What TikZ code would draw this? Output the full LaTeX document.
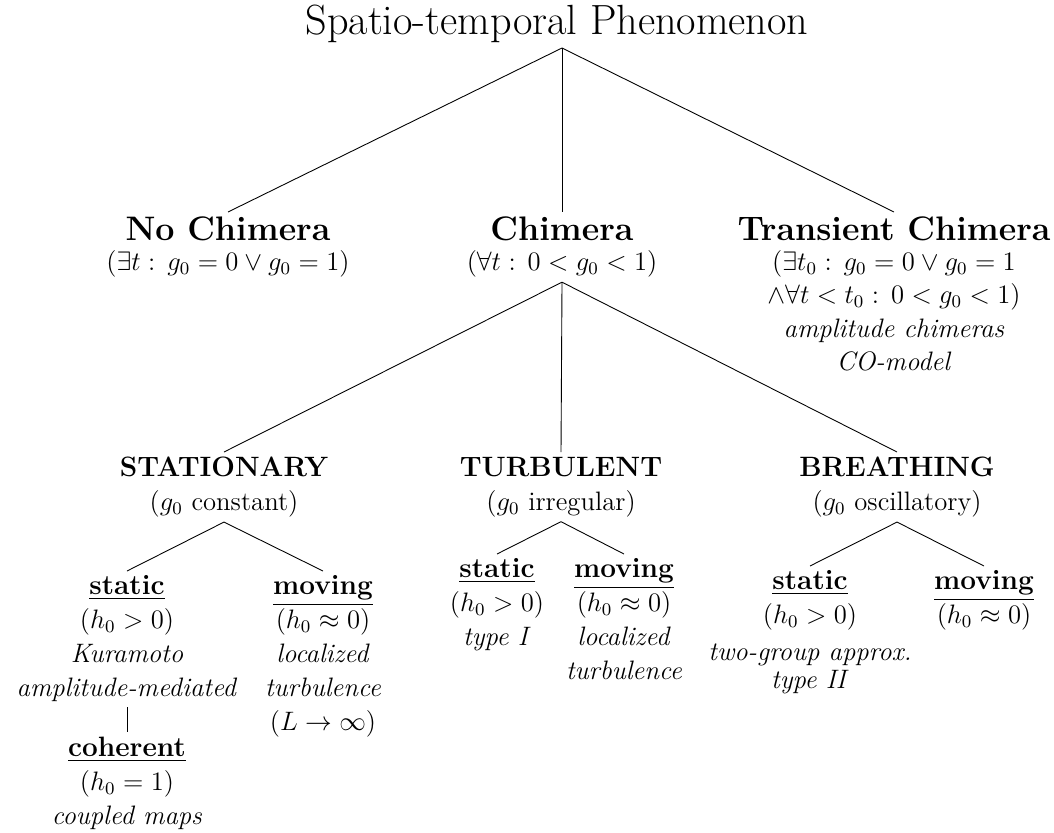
\documentclass[tikz,border=0pt]{standalone}
\usepackage{amsmath, amssymb}
\usepackage{tikz}
\usetikzlibrary{positioning}
\newcommand{\bighead}[1]{{\fontsize{15.3}{15}\selectfont\bfseries #1}}
\newcommand{\subhead}[1]{{\fontsize{12.6}{15}\selectfont\bfseries #1}}
\newcommand{\st}{\mathrel{:}\,}

\begin{document}
\begin{tikzpicture}[x=0.45pt, y=-0.45pt,
    cls/.style={align=center, anchor=north, inner sep=2pt, font=\fontsize{12}{15.3}\selectfont},
    top/.style={cls, font=\fontsize{12}{15}\selectfont}]
  \useasboundingbox (0,0) rectangle (1054,832);
  \node[anchor=south, inner sep=2pt, font=\fontsize{19}{23}\selectfont] (root) at (557,48) {Spatio-temporal Phenomenon};

  % erste Ebene
  \node[top] (noch) at (228,212) {\bighead{No Chimera}\\[-1.5pt] $(\exists t\st g_0=0\vee g_0=1)$};
  \node[top] (chim) at (562,212) {\bighead{Chimera}\\[-1.5pt] $(\forall t\st 0<g_0<1)$};
  \node[top] (trans) at (894,212) {\bighead{Transient Chimera}\\[-1.5pt]
    $(\exists t_0\st g_0=0\vee g_0=1$\\ $\wedge\forall t<t_0\st 0<g_0<1)$\\
    \textit{amplitude chimeras}\\ \textit{CO-model}};
  \draw (root.south -| chim.north) -- (noch.north);
  \draw (root.south -| chim.north) -- (chim.north);
  \draw (root.south -| chim.north) -- (trans.north);

  % Chimera-Typen
  \node[cls] (stat) at (224,452) {\subhead{STATIONARY}\\ ($g_0$ constant)};
  \node[cls] (turb) at (561,452) {\subhead{TURBULENT}\\ ($g_0$ irregular)};
  \node[cls] (brea) at (897,452) {\subhead{BREATHING}\\ ($g_0$ oscillatory)};
  \draw (chim.south) -- (stat.north);
  \draw (chim.south) -- (turb.north);
  \draw (chim.south) -- (brea.north);

  % stationaer
  \node[cls] (statS) at (127,571) {\underline{\subhead{static}}\\ $(h_0>0)$\\ \textit{Kuramoto}\\ \textit{amplitude-mediated}};
  \node[cls] (statM) at (323,571) {\underline{\subhead{moving}}\\ $(h_0\approx0)$\\ \textit{localized}\\ \textit{turbulence}\\ $(L\to\infty)$};
  \node[cls] (coh) at (127,732) {\underline{\subhead{coherent}}\\ $(h_0=1)$\\ \textit{coupled maps}};
  \draw (stat.south) -- (statS.north);
  \draw (stat.south) -- (statM.north);
  \draw (statS.south) -- (coh.north);

  % turbulent
  \node[cls] (turbS) at (497,554) {\underline{\subhead{static}}\\ $(h_0>0)$\\ \textit{type I}};
  \node[cls] (turbM) at (624,554) {\underline{\subhead{moving}}\\ $(h_0\approx0)$\\ \textit{localized}\\ \textit{turbulence}};
  \draw (turb.south) -- (turbS.north);
  \draw (turb.south) -- (turbM.north);

  % atmend
  \node[cls] (breS) at (810,566) {\underline{\subhead{static}}\\ $(h_0>0)$\\[1pt] \textit{two-group approx.}\\[-2.5pt] \textit{type II}};
  \node[cls] (breM) at (984,566) {\underline{\subhead{moving}}\\ $(h_0\approx0)$};
  \draw (brea.south) -- (breS.north);
  \draw (brea.south) -- (breM.north);
\end{tikzpicture}
\end{document}
